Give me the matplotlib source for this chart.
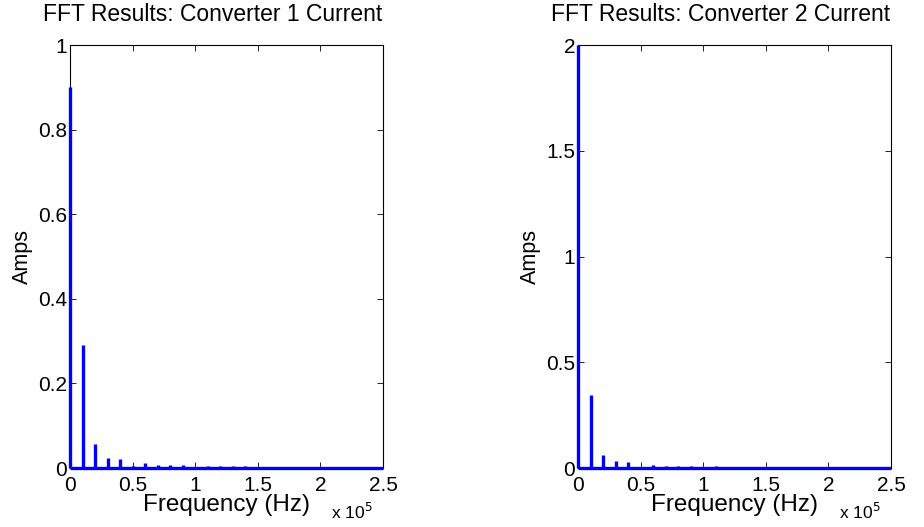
import matplotlib
matplotlib.use("Agg")
import matplotlib.pyplot as plt
import numpy as np

plt.rcParams["font.family"] = ["Liberation Sans", "DejaVu Sans"]

# Harmonic frequencies (Hz) of the switching ripple, DC first.
harmonic_hz = [0, 10000, 20000, 30000, 40000, 50000, 60000, 70000, 80000, 90000,
               100000, 110000, 120000, 130000, 140000, 150000, 160000, 170000,
               180000, 190000, 200000, 210000, 220000, 230000, 240000]

# FFT magnitudes (A) at each harmonic.
conv1_amps = [0.90, 0.29, 0.056, 0.024, 0.022, 0.004, 0.0125, 0.006, 0.006, 0.006,
              0.003, 0.005, 0.004, 0.004, 0.004, 0.003, 0.003, 0.003, 0.002,
              0.002, 0.002, 0.002, 0.001, 0.001, 0.001]
conv2_amps = [2.0, 0.345, 0.061, 0.035, 0.028, 0.004, 0.014, 0.009, 0.009, 0.009,
              0.003, 0.008, 0.005, 0.005, 0.005, 0.004, 0.004, 0.003, 0.003,
              0.003, 0.002, 0.002, 0.002, 0.001, 0.001]

x_ticks = [0, 50000, 100000, 150000, 200000, 250000]
x_tick_labels = ["0", "0.5", "1", "1.5", "2", "2.5"]
y_ticks_1 = [0, 0.2, 0.4, 0.6, 0.8, 1.0]
y_tick_labels_1 = ["0", "0.2", "0.4", "0.6", "0.8", "1"]
y_ticks_2 = [0, 0.5, 1.0, 1.5, 2.0]
y_tick_labels_2 = ["0", "0.5", "1", "1.5", "2"]

panels = [
    ("FFT Results: Converter 1 Current", conv1_amps, 1.0, y_ticks_1, y_tick_labels_1, 70),
    ("FFT Results: Converter 2 Current", conv2_amps, 2.0, y_ticks_2, y_tick_labels_2, 578),
]

W, H = 924, 527
fig = plt.figure(figsize=(W / 100, H / 100), dpi=100)

for title, amps, ymax, yt, ytl, left_px in panels:
    ax = fig.add_axes([left_px / W, (H - 468) / H, 313 / W, 423 / H])
    # spectrum drawn on top of the frame, like MATLAB's plot()
    ax.vlines(harmonic_hz, 0, amps, color="#0000ff", linewidth=2.4,
              zorder=5, clip_on=False)
    ax.plot([0, 250000], [0, 0], color="#0000ff", linewidth=2.4,
            solid_capstyle="butt", zorder=5, clip_on=False)
    ax.set_xlim(0, 250000)
    ax.set_ylim(0, ymax)
    ax.set_xticks(x_ticks)
    ax.set_xticklabels(x_tick_labels)
    ax.set_yticks(yt)
    ax.set_yticklabels(ytl)
    ax.tick_params(direction="in", length=4, width=0.6, labelsize=15,
                   top=True, right=True)
    ax.tick_params(axis="x", pad=6)
    ax.tick_params(axis="y", pad=2)
    for sp in ax.spines.values():
        sp.set_linewidth(0.8)
    ax.text(0.455, 1.0 + 24 / 423, title, transform=ax.transAxes, fontsize=16.5,
            ha="center", va="baseline")
    ax.set_xlabel("Frequency (Hz)", fontsize=17.5, labelpad=-1)
    ax.set_ylabel("Amps", fontsize=15.5, labelpad=4)
    ax.text(0.968, -0.105, r"x 10$^{5}$", transform=ax.transAxes, fontsize=12.5,
            ha="right", va="center")

fig.savefig("out.png", dpi=100)
